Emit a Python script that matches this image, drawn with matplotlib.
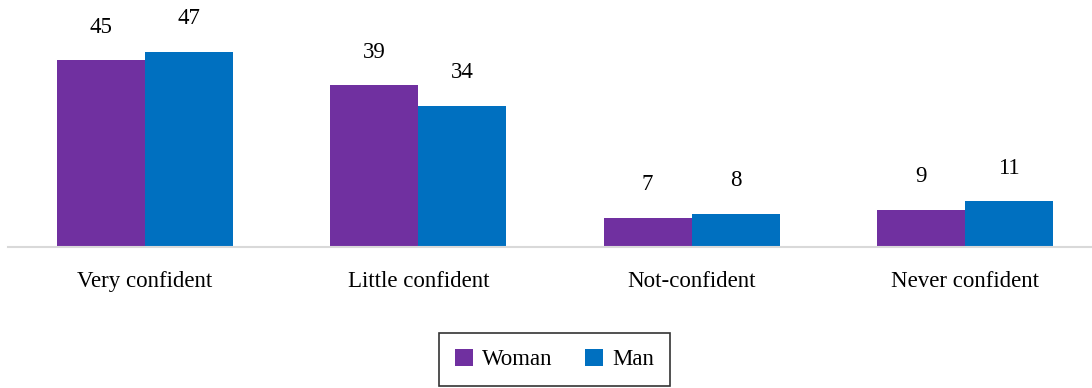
import matplotlib
matplotlib.use("Agg")
import matplotlib.pyplot as plt
import numpy as np
from matplotlib.patches import Patch

categories = ["Very confident", "Little confident", "Not-confident", "Never confident"]
series_names = ["Woman", "Man"]
woman = [45, 39, 7, 9]
man = [47, 34, 8, 11]
colors = ["#7030A0", "#0070C0"]

plt.rcParams['font.family'] = ['Liberation Serif', 'DejaVu Serif']

W, H = 1092, 388
fig = plt.figure(figsize=(W/100, H/100), dpi=100)
ax = fig.add_axes([8.3/W, 141/H, (1101.6-8.3)/W, 207.5/H])

x = np.arange(len(categories))
bw = 0.322
fs = 16.5
for vals, off, c in [(woman, -bw/2, colors[0]), (man, bw/2, colors[1])]:
    bars = ax.bar(x + off, vals, width=bw, color=c)
    for b, v in zip(bars, vals):
        ax.annotate(str(v), (b.get_x() + b.get_width()/2, v), xytext=(0, 33),
                    textcoords="offset pixels", ha="center", va="center", fontsize=fs)

ax.set_xlim(-0.5, len(categories) - 0.5)
ax.set_ylim(0, 50)
for s in ["top", "right", "left"]:
    ax.spines[s].set_visible(False)
ax.spines["bottom"].set_color("#D9D9D9")
ax.spines["bottom"].set_linewidth(1.5)
ax.set_yticks([])
ax.set_xticks(x)
ax.set_xticklabels(categories, fontsize=fs)
ax.tick_params(axis="x", length=0, pad=17)

handles = [Patch(facecolor=colors[i], label=series_names[i]) for i in range(2)]
leg = fig.legend(handles=handles, loc="center", bbox_to_anchor=(554.5/W, 1 - 359.5/H),
                 ncol=2, frameon=True, fancybox=False, fontsize=fs,
                 handlelength=0.8, handleheight=0.8, handletextpad=0.4, columnspacing=1.4,
                 borderpad=0.7)
leg.get_frame().set_edgecolor("black")
leg.get_frame().set_linewidth(1.2)

fig.savefig("out.png", dpi=100)
